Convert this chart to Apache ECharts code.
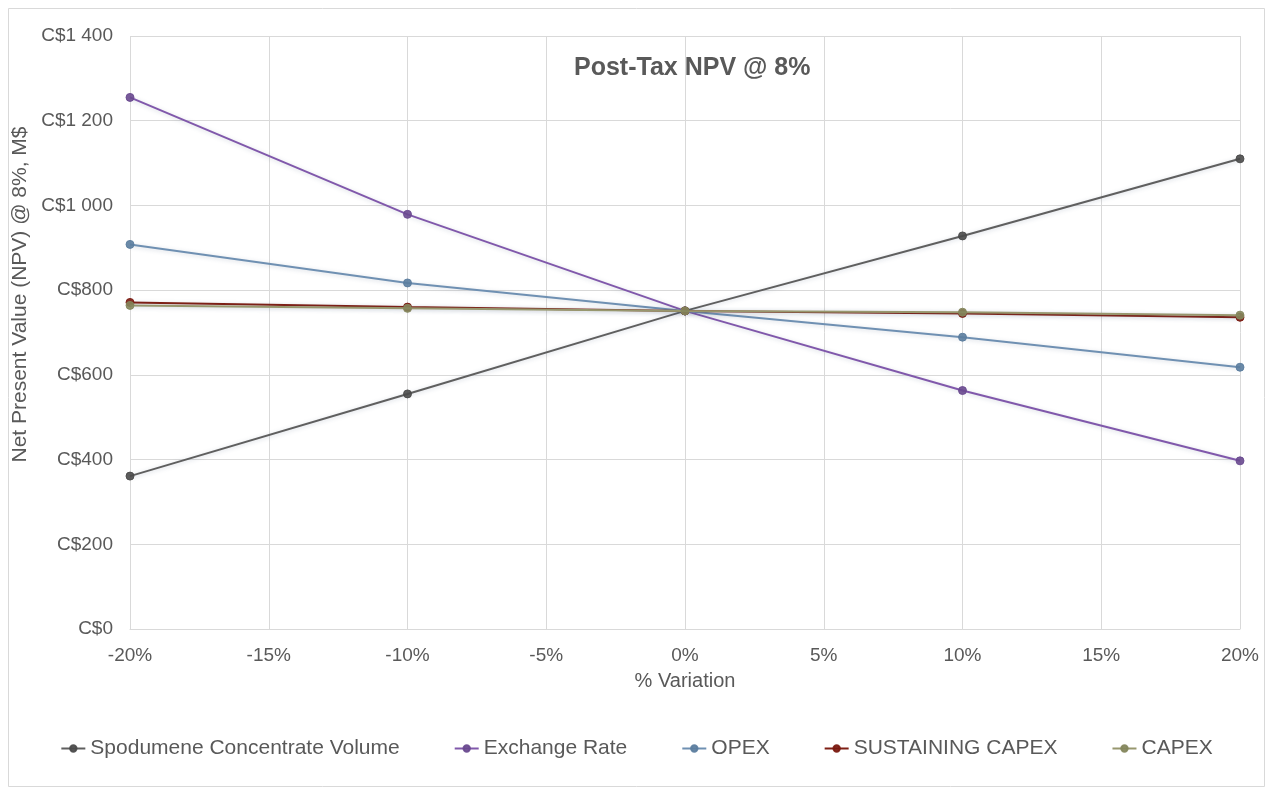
<!DOCTYPE html>
<html>
<head>
<meta charset="utf-8">
<script src="https://cdn.jsdelivr.net/npm/echarts@6/dist/echarts.min.js"></script>
<style>
  html, body { margin: 0; padding: 0; background: #ffffff; }
  #chart { width: 1273px; height: 794px; }
</style>
</head>
<body>
<div id="chart"></div>
<script>
// Sensitivity of post-tax NPV (8% discount) to +/- variation of key inputs
const variation = [-20, -10, 0, 10, 20];
const spodumeneVolume = [361, 555, 751, 928, 1110];
const exchangeRate = [1255, 979, 751, 563, 397];
const opex = [908, 817, 751, 689, 618];
const sustainingCapex = [771, 760, 751, 745, 736];
const capex = [764, 757, 751, 748, 741];

const seriesNames = ['Spodumene Concentrate Volume', 'Exchange Rate', 'OPEX', 'SUSTAINING CAPEX', 'CAPEX'];
const seriesValues = [spodumeneVolume, exchangeRate, opex, sustainingCapex, capex];
const lineColors = ['#5f5f5f', '#8058ab', '#6f90b2', '#7e1f14', '#97976e'];
const markerColors = ['#4a4a4a', '#69498f', '#5b7d9f', '#7a1a10', '#84865c'];

const FONT = "'Liberation Sans', Arial, sans-serif";
const TEXT = '#595959';
const GRID = '#d9d9d9';

function money(v) {
  const s = String(Math.round(v));
  return 'C$' + s.replace(/\B(?=(\d{3})+(?!\d))/g, ' ');
}

const chart = echarts.init(document.getElementById('chart'), null, { renderer: 'canvas' });

chart.setOption({
  backgroundColor: '#ffffff',
  animation: false,
  textStyle: { fontFamily: FONT },
  graphic: [{
    type: 'rect',
    shape: { x: 8.5, y: 8.5, width: 1256, height: 778 },
    style: { fill: 'none', stroke: GRID, lineWidth: 1 },
    silent: true,
    z: -10
  }],
  title: {
    text: 'Post-Tax NPV @ 8%',
    left: 569,
    top: 51,
    textStyle: { fontFamily: FONT, fontSize: 25, fontWeight: 'bold', color: TEXT }
  },
  grid: { left: 130, right: 33, top: 36, bottom: 165, containLabel: false },
  legend: {
    left: 'center',
    top: 733,
    itemGap: 54,
    itemWidth: 24,
    itemHeight: 8,
    textStyle: { fontFamily: FONT, fontSize: 21, color: TEXT },
    data: seriesNames
  },
  xAxis: {
    type: 'value',
    min: -20,
    max: 20,
    interval: 5,
    name: '% Variation',
    nameLocation: 'middle',
    nameGap: 42,
    nameTextStyle: { fontFamily: FONT, fontSize: 20, color: TEXT },
    axisLine: { show: true, lineStyle: { color: GRID } },
    axisTick: { show: false },
    axisLabel: { margin: 17, fontFamily: FONT, fontSize: 19, color: TEXT, formatter: v => v + '%' },
    splitLine: { show: true, lineStyle: { color: GRID, width: 1 } }
  },
  yAxis: {
    type: 'value',
    min: 0,
    max: 1400,
    interval: 200,
    name: 'Net Present Value (NPV) @ 8%, M$',
    nameLocation: 'middle',
    nameGap: 94,
    nameTextStyle: { fontFamily: FONT, fontSize: 21, color: TEXT, padding: [0, 0, 0, 76] },
    axisLine: { show: false },
    axisTick: { show: false },
    axisLabel: { margin: 17, fontFamily: FONT, fontSize: 19, color: TEXT, formatter: money },
    splitLine: { show: true, lineStyle: { color: GRID, width: 1 } }
  },
  series: seriesNames.map((name, i) => ({
    name: name,
    type: 'line',
    data: variation.map((x, j) => [x, seriesValues[i][j]]),
    symbol: 'circle',
    symbolSize: 8,
    lineStyle: {
      color: lineColors[i],
      width: 2,
      shadowColor: 'rgba(80,100,130,0.25)',
      shadowBlur: 4,
      shadowOffsetY: 1
    },
    itemStyle: {
      color: markerColors[i],
      borderColor: markerColors[i],
      borderWidth: 1,
      opacity: 0.9
    },
    z: 2 + i
  }))
});
</script>
</body>
</html>
